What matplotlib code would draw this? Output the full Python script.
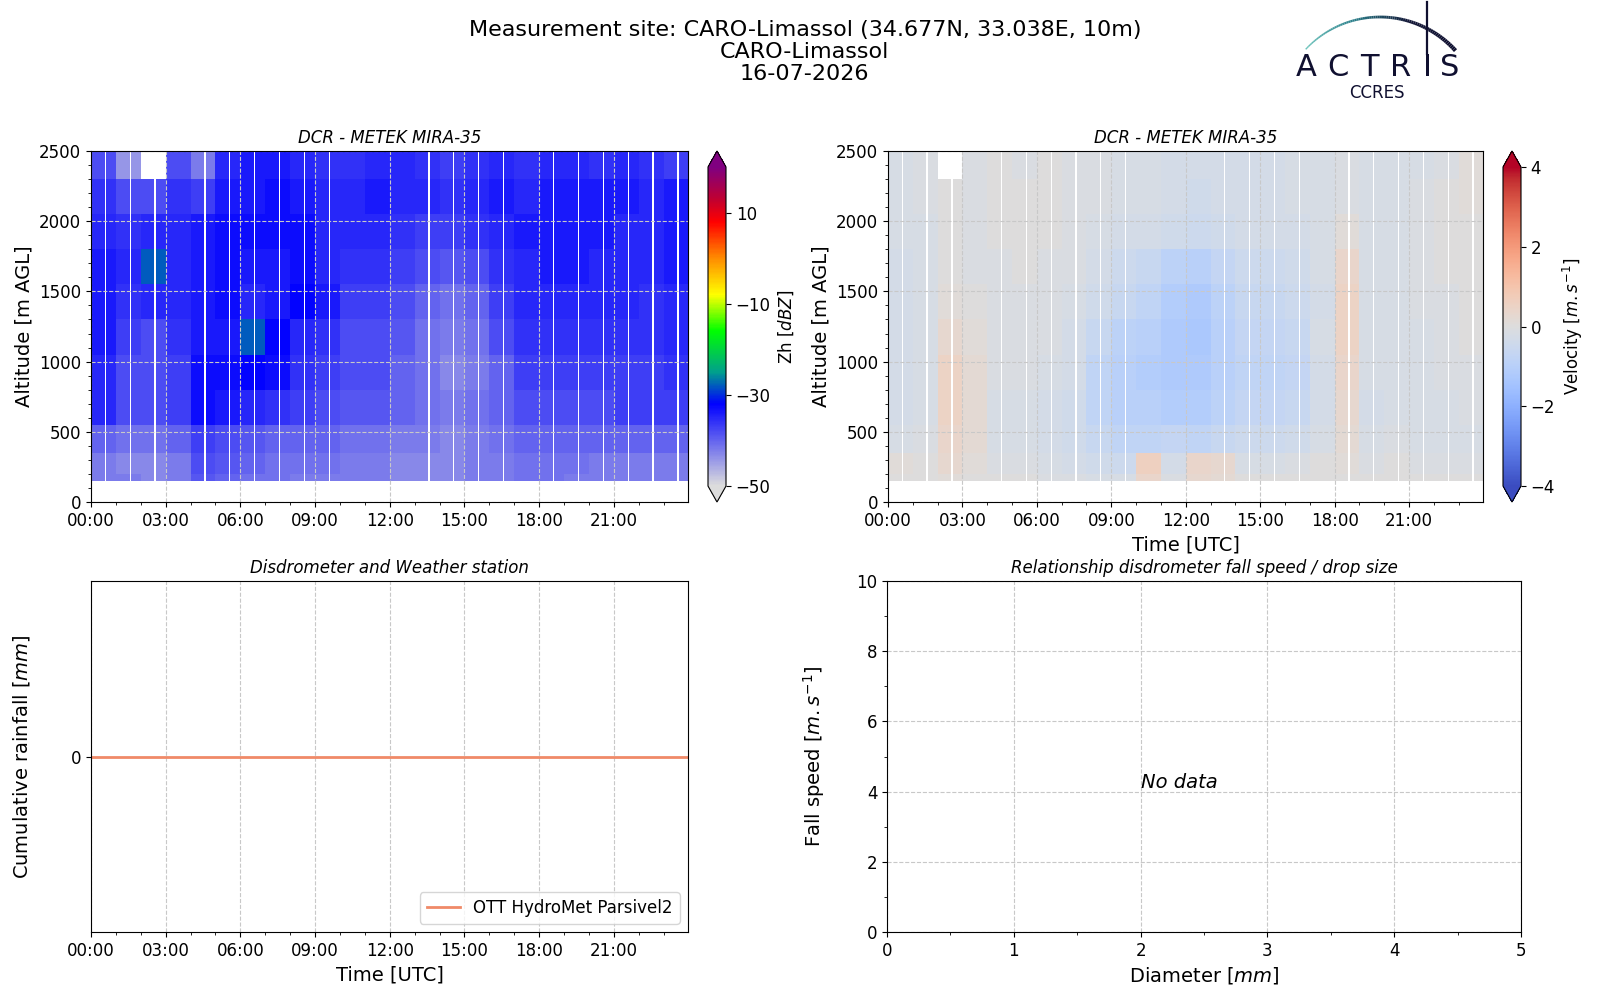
import numpy as np
import matplotlib
matplotlib.use('Agg')
import matplotlib.pyplot as plt
from matplotlib.colors import LinearSegmentedColormap
from matplotlib.collections import LineCollection
from matplotlib.ticker import MultipleLocator, FuncFormatter

site = 'CARO-Limassol'
site_info = 'Measurement site: CARO-Limassol (34.677N, 33.038E, 10m)'
day = '16-07-2026'
radar_name = 'DCR - METEK MIRA-35'

# radar gates, coarse read of the picture: one column per hour, rows bottom -> top
hours = list(range(24))
gap_hours = [0, 1, 2, 4, 5, 6, 7, 8, 9, 13, 14, 15, 16, 18, 19, 20, 21, 22, 23]
gap_start = 0.55
gap_len = 0.05
data_end = 23.97
height_edges = [150, 200, 350, 550, 800, 1050, 1300, 1550, 1800, 2050, 2300, 2500]

nan = np.nan
zh = [
    [-42, -42, -43, -42, -39, -40, -41, -41, -42, -42, -42, -42, -43, -43, -43, -42, -42, -41, -41, -42, -42, -42, -42, -42],
    [-42, -43, -43, -42, -38, -39, -40, -41, -41, -41, -42, -42, -43, -43, -43, -42, -42, -41, -41, -41, -42, -42, -42, -42],
    [-40, -41, -41, -40, -37, -38, -39, -40, -40, -40, -41, -41, -42, -42, -43, -42, -41, -40, -40, -40, -40, -40, -40, -40],
    [-35, -38, -38, -37, -33, -34, -35, -36, -37, -38, -39, -39, -40, -41, -42, -41, -40, -38, -38, -38, -38, -37, -37, -37],
    [-35, -38, -38, -37, -33, -33, -32, -33, -36, -37, -38, -38, -40, -41, -43, -42, -40, -37, -37, -37, -37, -37, -37, -36],
    [-34, -37, -38, -36, -34, -34, -28, -32, -35, -36, -38, -38, -39, -41, -42, -41, -38, -36, -36, -36, -36, -36, -36, -35],
    [-34, -36, -35, -35, -34, -33, -35, -34, -32, -34, -37, -37, -38, -40, -41, -40, -37, -35, -35, -35, -35, -35, -36, -35],
    [-34, -35, -28, -35, -34, -33, -34, -34, -33, -35, -36, -36, -37, -38, -39, -38, -36, -35, -34, -34, -35, -35, -35, -34],
    [-35, -36, -35, -35, -34, -33, -33, -33, -33, -35, -35, -35, -36, -37, -37, -36, -35, -34, -34, -34, -34, -35, -35, -34],
    [-36, -38, -38, -36, -37, -34, -34, -33, -34, -35, -35, -34, -35, -35, -36, -35, -34, -35, -34, -34, -34, -34, -35, -34],
    [-38, -44, nan, -38, -42, -35, -34, -34, -35, -36, -36, -35, -35, -36, -37, -36, -35, -36, -35, -35, -36, -35, -36, -37],
]

vel = [
    [0.0, 0.0, 0.1, 0.0, 0.0, 0.0, -0.1, -0.1, -0.2, -0.2, 0.4, -0.1, 0.3, 0.2, 0.0, 0.0, 0.0, 0.0, 0.0, 0.0, 0.0, 0.0, 0.0, 0.0],
    [0.1, 0.0, 0.3, 0.1, -0.1, -0.1, -0.2, -0.3, -0.4, -0.5, 0.6, -0.3, 0.4, 0.3, -0.2, -0.2, -0.1, 0.0, 0.1, -0.1, 0.0, -0.1, -0.1, -0.1],
    [-0.2, -0.1, 0.4, 0.2, -0.2, -0.2, -0.3, -0.4, -0.6, -0.8, -0.8, -0.7, -0.8, -0.6, -0.5, -0.5, -0.4, -0.2, 0.2, -0.2, -0.1, -0.2, -0.2, -0.2],
    [-0.3, -0.2, 0.5, 0.2, -0.2, -0.2, -0.3, -0.4, -0.8, -1.0, -1.0, -1.1, -1.1, -0.9, -0.7, -0.7, -0.6, -0.3, 0.3, -0.3, -0.2, -0.2, -0.2, -0.1],
    [-0.3, -0.2, 0.5, 0.2, -0.1, -0.1, -0.2, -0.3, -0.8, -1.0, -1.1, -1.2, -1.2, -1.0, -0.8, -0.8, -0.7, -0.3, 0.4, -0.2, -0.2, -0.2, -0.1, -0.1],
    [-0.3, -0.2, 0.3, 0.1, -0.1, -0.1, -0.1, -0.3, -0.6, -0.9, -1.0, -1.2, -1.3, -1.0, -0.7, -0.7, -0.6, -0.2, 0.5, -0.2, -0.2, -0.2, -0.1, 0.0],
    [-0.3, -0.2, 0.1, 0.0, -0.1, -0.1, -0.1, -0.2, -0.4, -0.6, -0.8, -1.1, -1.2, -0.9, -0.6, -0.6, -0.5, -0.3, 0.5, -0.2, -0.2, -0.1, -0.1, 0.0],
    [-0.3, -0.2, 0.0, -0.1, -0.1, 0.0, -0.1, -0.1, -0.3, -0.5, -0.6, -0.9, -1.0, -0.7, -0.5, -0.5, -0.4, -0.2, 0.4, -0.2, -0.2, -0.1, 0.0, 0.0],
    [-0.2, -0.2, 0.0, -0.1, 0.0, 0.0, 0.0, -0.1, -0.2, -0.3, -0.3, -0.4, -0.5, -0.4, -0.3, -0.3, -0.3, -0.2, 0.1, -0.2, -0.2, -0.1, 0.0, 0.0],
    [-0.2, -0.1, 0.0, -0.1, 0.0, 0.0, 0.0, -0.1, -0.1, -0.2, -0.2, -0.3, -0.4, -0.3, -0.3, -0.3, -0.2, -0.2, -0.1, -0.2, -0.2, -0.1, 0.0, 0.1],
    [-0.2, -0.1, nan, -0.1, 0.0, -0.1, 0.0, -0.1, -0.1, -0.2, -0.2, -0.3, -0.3, -0.3, -0.3, -0.3, -0.2, -0.2, -0.1, -0.2, -0.2, -0.2, -0.1, 0.1],
]

# disdrometer: no rain at all that day
rain_times = list(range(25))
rain_cum = [0.0] * 25


def split_columns(values):
    values = np.array(values, float)
    edges = []
    cols = []
    for h in hours:
        edges.append(h)
        cols.append(values[:, h])
        if h in gap_hours:
            edges += [h + gap_start, h + gap_start + gap_len]
            cols.append(np.full(values.shape[0], np.nan))
            cols.append(values[:, h])
    edges.append(data_end)
    return np.array(edges), np.ma.masked_invalid(np.column_stack(cols))


zh_cmap = LinearSegmentedColormap.from_list('zh', [
    (0.0, '#dcdcdc'), (0.257, '#0000ff'), (0.357, '#00a08c'), (0.486, '#00ff00'),
    (0.6, '#ffff00'), (0.714, '#ff8c00'), (0.829, '#ff0000'), (0.9, '#c00030'),
    (1.0, '#800080')])

hour_fmt = FuncFormatter(lambda x, p: f'{int(round(x)):02d}:00')


def style_time_axis(ax):
    ax.set_xlim(0, 23.98)
    ax.xaxis.set_major_locator(MultipleLocator(3))
    ax.xaxis.set_minor_locator(MultipleLocator(1))
    ax.xaxis.set_major_formatter(hour_fmt)
    ax.tick_params(labelsize=12)
    ax.grid(True, ls='--', color='#c8c8c8', lw=0.8)


fig = plt.figure(figsize=(16, 10), dpi=100)

fig.text(0.503, 0.948, f'{site_info}\n{site}\n{day}', ha='center', va='center',
         fontsize=16, linespacing=1.15, multialignment='center')

panels = [
    (zh, zh_cmap, -50, 20, [-50, -30, -10, 10], 'Zh [$dBZ$]', 91, 688, 708),
    (vel, plt.get_cmap('coolwarm'), -4, 4, [-4, -2, 0, 2, 4], 'Velocity [$m.s^{-1}$]', 888, 1483, 1503),
]
for i, (field, cmap, vmin, vmax, cticks, clabel, x0, x1, cx) in enumerate(panels):
    ax = fig.add_axes([x0 / 1600, 0.498, (x1 - x0) / 1600, 0.351])
    t_edges, grid = split_columns(field)
    mesh = ax.pcolormesh(t_edges, height_edges, grid, cmap=cmap, vmin=vmin, vmax=vmax,
                         shading='flat')
    style_time_axis(ax)
    ax.set_ylim(0, 2500)
    ax.yaxis.set_major_locator(MultipleLocator(500))
    ax.yaxis.set_minor_locator(MultipleLocator(100))
    ax.set_ylabel('Altitude [m AGL]', fontsize=14)
    ax.set_title(radar_name, fontsize=12, fontstyle='italic')
    if i == 1:
        ax.set_xlabel('Time [UTC]', fontsize=14)
    cax = fig.add_axes([cx / 1600, 0.498, 18 / 1600, 0.351])
    cb = fig.colorbar(mesh, cax=cax, extend='both', ticks=cticks)
    cb.set_label(clabel, fontsize=12)
    cb.ax.tick_params(labelsize=12)

# cumulative rainfall
ax3 = fig.add_axes([91 / 1600, 0.068, 597 / 1600, 0.351])
ax3.plot(rain_times, rain_cum, color='#f08a68', lw=2, label='OTT HydroMet Parsivel2')
style_time_axis(ax3)
ax3.set_ylim(-0.055, 0.055)
ax3.set_yticks([0])
ax3.set_xlabel('Time [UTC]', fontsize=14)
ax3.set_ylabel('Cumulative rainfall [$mm$]', fontsize=14)
ax3.yaxis.set_label_coords(-0.099, 0.5)
ax3.set_title('Disdrometer and Weather station', fontsize=12, fontstyle='italic')
ax3.legend(loc='lower right', fontsize=12)

# fall speed vs diameter, empty
ax4 = fig.add_axes([887 / 1600, 0.068, 634 / 1600, 0.351])
ax4.set_xlim(0, 5)
ax4.set_ylim(0, 10)
ax4.xaxis.set_major_locator(MultipleLocator(1))
ax4.xaxis.set_minor_locator(MultipleLocator(0.5))
ax4.yaxis.set_major_locator(MultipleLocator(2))
ax4.yaxis.set_minor_locator(MultipleLocator(1))
ax4.tick_params(labelsize=12)
ax4.grid(True, ls='--', color='#c8c8c8', lw=0.8)
ax4.set_xlabel('Diameter [$mm$]', fontsize=14)
ax4.set_ylabel('Fall speed [$m.s^{-1}$]', fontsize=14)
ax4.yaxis.set_label_coords(-0.095, 0.5)
ax4.set_title('Relationship disdrometer fall speed / drop size', fontsize=12, fontstyle='italic')
ax4.text(2, 4, 'No data', fontsize=14, fontstyle='italic', ha='left', va='bottom')

# ACTRIS CCRES logo, drawn in pixel space
logo = fig.add_axes([0, 0, 1, 1], zorder=-1)
logo.set_xlim(0, 1600)
logo.set_ylim(1000, 0)
logo.axis('off')
theta = np.radians(np.linspace(137, 42, 80))
ax_pts = 1380 + 101.6 * np.cos(theta)
ay_pts = 118.6 - 101.6 * np.sin(theta)
pts = np.column_stack([ax_pts, ay_pts]).reshape(-1, 1, 2)
segs = np.concatenate([pts[:-1], pts[1:]], axis=1)
arc_cmap = LinearSegmentedColormap.from_list('arc', ['#6cc4bc', '#2a7f8a', '#141838', '#101030'])
lc = LineCollection(segs, cmap=arc_cmap, linewidths=np.linspace(1.0, 3.0, len(segs)))
lc.set_array(np.linspace(0, 1, len(segs)))
logo.add_collection(lc)
logo.plot([1427, 1427], [2, 54], color='#101030', lw=1.6)
for letter, lx in zip('ACTRIS', [1306, 1338, 1369, 1401, 1427, 1450]):
    logo.text(lx, 68, letter, fontsize=22, color='#101030', ha='center', va='center')
logo.text(1377, 93, 'CCRES', fontsize=12, color='#101030', ha='center', va='center')

fig.savefig('out.png', dpi=100)
